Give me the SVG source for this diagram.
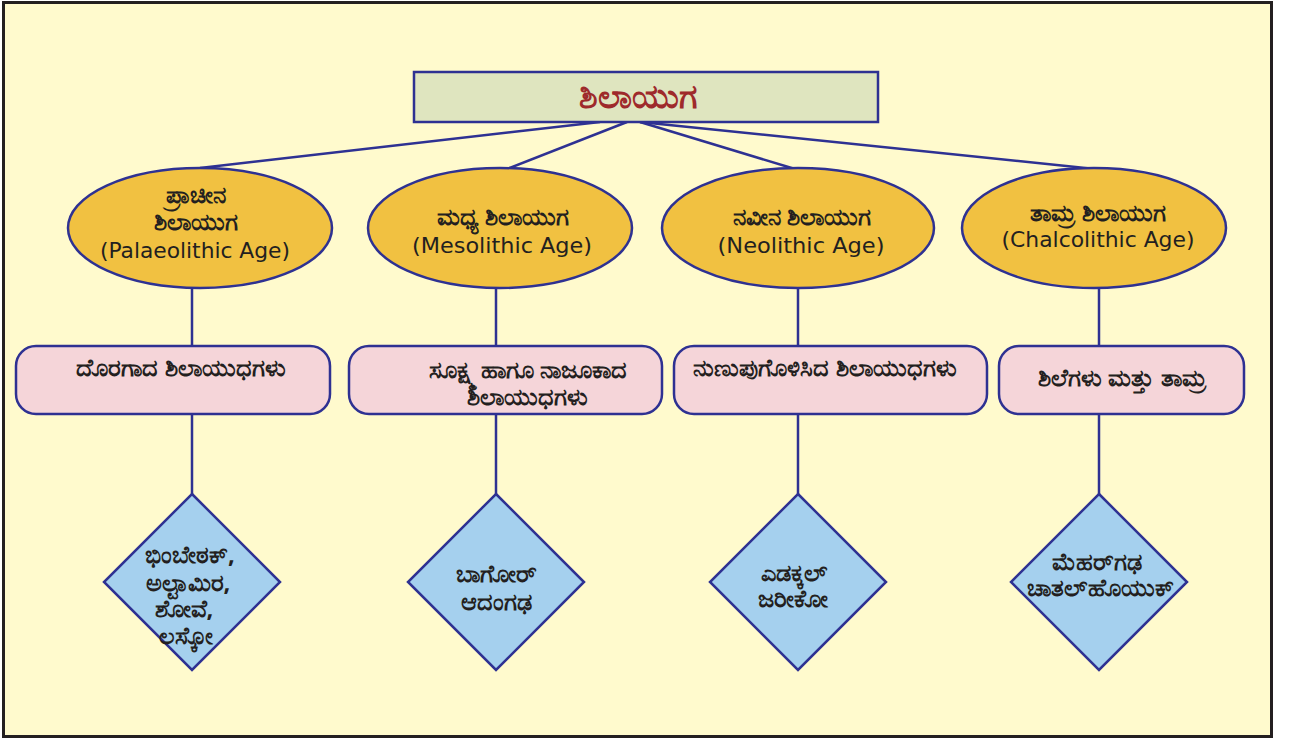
<svg xmlns="http://www.w3.org/2000/svg" width="1290" height="743" viewBox="0 0 1290 743">
<style>
.frame{fill:#fffacd;stroke:#231f20;stroke-width:3}
.conn line{stroke:#2e3192;stroke-width:2.5}
.title{fill:#dfe5bf;stroke:#2e3192;stroke-width:2.5}
.ell{fill:#f1c141;stroke:#2e3192;stroke-width:2.5}
.box{fill:#f5d5d9;stroke:#2e3192;stroke-width:2.5}
.dia{fill:#a5d0ee;stroke:#2e3192;stroke-width:2.5}
.kn{font-family:"Noto Sans","DejaVu Sans",sans-serif;font-weight:bold;font-size:24px;fill:#231f20;text-anchor:middle}
.en{font-family:"DejaVu Sans Condensed","DejaVu Sans",sans-serif;font-size:22px;fill:#231f20;text-anchor:middle}
.tt{font-family:"Noto Sans","DejaVu Sans",sans-serif;font-weight:bold;font-size:34px;fill:#9e2a2b;text-anchor:middle}
</style>
<rect x="0" y="0" width="1290" height="743" fill="#ffffff"/>
<rect class="frame" x="3.5" y="2.5" width="1268" height="734"/>
<g id="connectors" class="conn">
<line x1="600" y1="122" x2="200" y2="168"/>
<line x1="627" y1="122" x2="507" y2="169"/>
<line x1="640" y1="122" x2="795" y2="169"/>
<line x1="640" y1="122" x2="1095" y2="169"/>
<line x1="192" y1="288" x2="192" y2="346"/>
<line x1="496" y1="288" x2="496" y2="346"/>
<line x1="798" y1="288" x2="798" y2="346"/>
<line x1="1099" y1="288" x2="1099" y2="346"/>
<line x1="192" y1="414" x2="192" y2="494"/>
<line x1="496" y1="414" x2="496" y2="494"/>
<line x1="798" y1="414" x2="798" y2="494"/>
<line x1="1099" y1="414" x2="1099" y2="494"/>
</g>
<g id="root">
<rect class="title" x="414" y="72" width="464" height="50"/>
<text class="tt" x="638" y="108">ಶಿಲಾಯುಗ</text>
</g>
<g id="age1">
<ellipse class="ell" cx="200" cy="228" rx="132" ry="60"/>
<text class="kn" x="196" y="203">ಪ್ರಾಚೀನ</text>
<text class="kn" x="196" y="230">ಶಿಲಾಯುಗ</text>
<text class="en" x="195" y="258" textLength="190" lengthAdjust="spacingAndGlyphs">(Palaeolithic Age)</text>
</g>
<g id="age2">
<ellipse class="ell" cx="500" cy="228" rx="132" ry="60"/>
<text class="kn" x="503" y="225">ಮಧ್ಯ ಶಿಲಾಯುಗ</text>
<text class="en" x="502" y="253" textLength="180" lengthAdjust="spacingAndGlyphs">(Mesolithic Age)</text>
</g>
<g id="age3">
<ellipse class="ell" cx="798" cy="228" rx="136" ry="60"/>
<text class="kn" x="802" y="225">ನವೀನ ಶಿಲಾಯುಗ</text>
<text class="en" x="801" y="253" textLength="167" lengthAdjust="spacingAndGlyphs">(Neolithic Age)</text>
</g>
<g id="age4">
<ellipse class="ell" cx="1094" cy="228" rx="132" ry="60"/>
<text class="kn" x="1098" y="221">ತಾಮ್ರ ಶಿಲಾಯುಗ</text>
<text class="en" x="1098" y="247" textLength="193" lengthAdjust="spacingAndGlyphs">(Chalcolithic Age)</text>
</g>
<g id="tool1">
<rect class="box" x="16" y="346" width="314" height="68" rx="20"/>
<text class="kn" x="181" y="376">ದೊರಗಾದ ಶಿಲಾಯುಧಗಳು</text>
</g>
<g id="tool2">
<rect class="box" x="349" y="346" width="313" height="68" rx="20"/>
<text class="kn" x="528" y="378">ಸೂಕ್ಷ್ಮ ಹಾಗೂ ನಾಜೂಕಾದ</text>
<text class="kn" x="527" y="405">ಶಿಲಾಯುಧಗಳು</text>
</g>
<g id="tool3">
<rect class="box" x="674" y="346" width="313" height="68" rx="20"/>
<text class="kn" x="825" y="376">ನುಣುಪುಗೊಳಿಸಿದ ಶಿಲಾಯುಧಗಳು</text>
</g>
<g id="tool4">
<rect class="box" x="999" y="346" width="245" height="68" rx="20"/>
<text class="kn" x="1122" y="386">ಶಿಲೆಗಳು ಮತ್ತು ತಾಮ್ರ</text>
</g>
<g id="site1">
<polygon class="dia" points="192,494 280,582 192,670 104,582"/>
<text class="kn" x="190" y="563">ಭಿಂಬೇಠಕ್,</text>
<text class="kn" x="188" y="591">ಅಲ್ಟಾಮಿರ,</text>
<text class="kn" x="184" y="617">ಶೋವೆ,</text>
<text class="kn" x="186" y="644">ಲಸ್ಕೋ</text>
</g>
<g id="site2">
<polygon class="dia" points="496,494 584,582 496,670 408,582"/>
<text class="kn" x="496" y="582">ಬಾಗೋರ್</text>
<text class="kn" x="496" y="610">ಆದಂಗಢ</text>
</g>
<g id="site3">
<polygon class="dia" points="798,494 886,582 798,670 710,582"/>
<text class="kn" x="794" y="581">ಎಡಕ್ಕಲ್</text>
<text class="kn" x="793" y="607">ಜರೀಕೋ</text>
</g>
<g id="site4">
<polygon class="dia" points="1099,494 1187,582 1099,670 1011,582"/>
<text class="kn" x="1097" y="570">ಮೆಹರ್‌ಗಢ</text>
<text class="kn" x="1100" y="596">ಚಾತಲ್‌ಹೊಯುಕ್</text>
</g>
</svg>
